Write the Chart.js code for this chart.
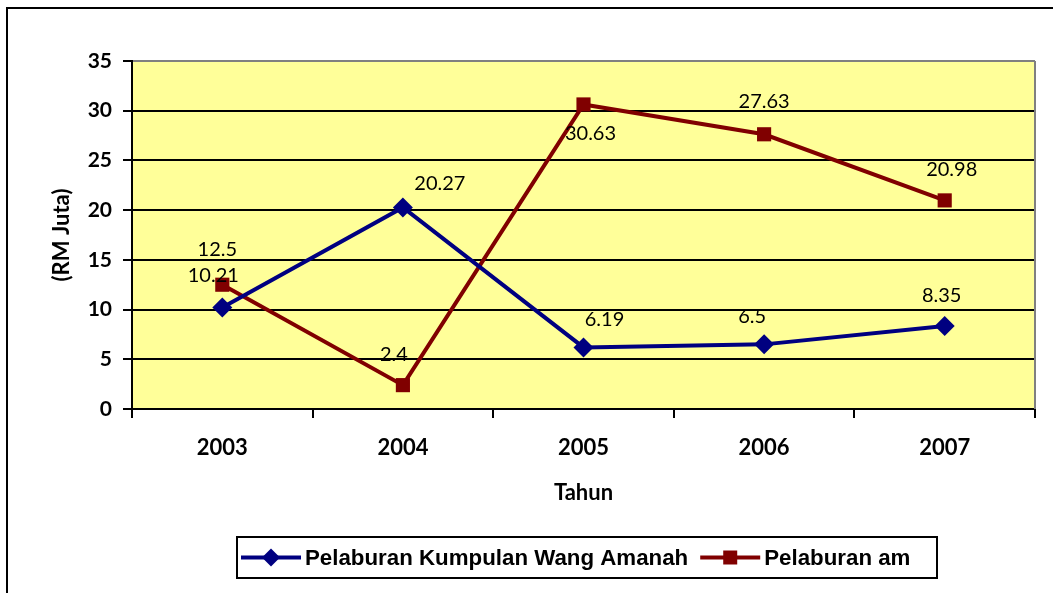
<!DOCTYPE html>
<html>
<head>
<meta charset="utf-8">
<script src="https://cdn.jsdelivr.net/npm/chart.js@4"></script>
<style>
    body { margin: 0; background: #fff; }
    #wrap { width: 1053px; height: 593px; }
</style>
</head>
<body>
<div id="wrap"><canvas id="chart" width="1053" height="593"></canvas></div>
<script>
const years = ['2003', '2004', '2005', '2006', '2007'];
const kumpulanWang = [10.21, 20.27, 6.19, 6.5, 8.35];
const pelaburanAm = [12.5, 2.4, 30.63, 27.63, 20.98];
const yTicks = [0, 5, 10, 15, 20, 25, 30, 35];

const yFont = { family: 'Lato', size: 21, weight: 'bold' };
const xFont = { family: 'Lato', size: 22, weight: 'bold' };

// frame, yellow plot area, gray top/right edge
const framePlugin = {
    id: 'frame',
    beforeDraw(chart) {
        const { ctx, chartArea: a } = chart;
        ctx.save();
        ctx.fillStyle = '#fff';
        ctx.fillRect(0, 0, chart.width, chart.height);
        ctx.strokeStyle = '#000';
        ctx.lineWidth = 2;
        ctx.strokeRect(7, 8, 2000, 2000);
        ctx.fillStyle = '#FFFF99';
        ctx.fillRect(a.left, a.top, a.right - a.left, a.bottom - a.top);
        ctx.restore();
    },
    beforeDatasetsDraw(chart) {
        const { ctx, chartArea: a } = chart;
        ctx.save();
        ctx.strokeStyle = '#808080';
        ctx.lineWidth = 2;
        ctx.beginPath();
        ctx.moveTo(a.right, a.top);
        ctx.lineTo(a.right, a.bottom);
        ctx.stroke();
        ctx.restore();
    }
};

// value labels, nudged per point like the original
const valueLabels = {
    id: 'valueLabels',
    afterDatasetsDraw(chart) {
        const ctx = chart.ctx;
        ctx.save();
        ctx.font = '20px Lato';
        ctx.fillStyle = '#000';
        ctx.textAlign = 'center';
        ctx.textBaseline = 'middle';
        chart.data.datasets.forEach((ds, i) => {
            chart.getDatasetMeta(i).data.forEach((pt, j) => {
                const off = ds.labelOffsets[j];
                ctx.fillText(String(ds.data[j]), pt.x + off[0], pt.y + off[1]);
            });
        });
        ctx.restore();
    }
};

// legend: line + marker, boxed, under the axis title
const lineLegend = {
    id: 'lineLegend',
    afterDraw(chart) {
        const ctx = chart.ctx;
        const box = { x: 237, y: 537, w: 700, h: 41 };
        const cy = box.y + box.h / 2;
        ctx.save();
        ctx.strokeStyle = '#000';
        ctx.lineWidth = 2;
        ctx.strokeRect(box.x, box.y, box.w, box.h);
        ctx.font = 'bold 22.3px "Liberation Sans", Arial';
        ctx.textBaseline = 'middle';
        let x = box.x + 4;
        chart.data.datasets.forEach(ds => {
            ctx.strokeStyle = ds.borderColor;
            ctx.lineWidth = 4;
            ctx.beginPath();
            ctx.moveTo(x, cy);
            ctx.lineTo(x + 60, cy);
            ctx.stroke();
            ctx.fillStyle = ds.borderColor;
            ctx.beginPath();
            if (ds.pointStyle === 'rectRot') {
                ctx.moveTo(x + 30, cy - 9);
                ctx.lineTo(x + 39, cy);
                ctx.lineTo(x + 30, cy + 9);
                ctx.lineTo(x + 21, cy);
                ctx.closePath();
            } else {
                ctx.rect(x + 23, cy - 7, 14, 14);
            }
            ctx.fill();
            ctx.fillStyle = '#000';
            ctx.fillText(ds.label, x + 64, cy + 1);
            x += 64 + ctx.measureText(ds.label).width + 12;
        });
        ctx.restore();
    }
};

new Chart(document.getElementById('chart'), {
    type: 'line',
    data: {
        labels: years,
        datasets: [
            {
                label: 'Pelaburan Kumpulan Wang Amanah',
                data: kumpulanWang,
                borderColor: '#000080',
                backgroundColor: '#000080',
                borderWidth: 4,
                pointStyle: 'rectRot',
                pointRadius: 10,
                pointBorderWidth: 0,
                tension: 0,
                labelOffsets: [[-9, -32], [37, -24], [21, -28], [-12, -28], [-3, -30]]
            },
            {
                label: 'Pelaburan am',
                data: pelaburanAm,
                borderColor: '#800000',
                backgroundColor: '#800000',
                borderWidth: 4,
                pointStyle: 'rect',
                pointRadius: 10,
                pointBorderWidth: 0,
                tension: 0,
                labelOffsets: [[-5, -35], [-9, -31], [7, 29], [0, -33], [7, -31]]
            }
        ]
    },
    options: {
        responsive: false,
        animation: false,
        devicePixelRatio: 1,
        layout: { padding: { top: 61, right: 18, left: 40, bottom: 84 } },
        plugins: {
            legend: { display: false },
            tooltip: { enabled: false }
        },
        scales: {
            x: {
                offset: true,
                grid: {
                    offset: true,
                    drawOnChartArea: false,
                    drawTicks: true,
                    tickLength: 9,
                    color: '#000',
                    lineWidth: 2
                },
                border: { color: '#000', width: 2 },
                ticks: { font: xFont, color: '#000', padding: 17 },
                title: {
                    display: true,
                    text: 'Tahun',
                    font: xFont,
                    color: '#000',
                    padding: { top: 4, bottom: 3 }
                },
                afterFit(scale) { scale.height = 100; }
            },
            y: {
                min: yTicks[0],
                max: yTicks[yTicks.length - 1],
                afterBuildTicks(scale) { scale.ticks = yTicks.map(v => ({ value: v })); },
                grid: {
                    color: c => (c.tick && c.tick.value === 35 ? '#808080' : '#000'),
                    tickColor: '#000',
                    lineWidth: 2,
                    tickLength: 9
                },
                border: { color: '#000', width: 2 },
                ticks: { font: yFont, color: '#000', padding: 11 },
                title: {
                    display: true,
                    text: '(RM Juta)',
                    font: xFont,
                    color: '#000',
                    padding: { top: 9, bottom: 4 }
                },
                afterFit(scale) { scale.width = 92; }
            }
        }
    },
    plugins: [framePlugin, valueLabels, lineLegend]
});
</script>
</body>
</html>
